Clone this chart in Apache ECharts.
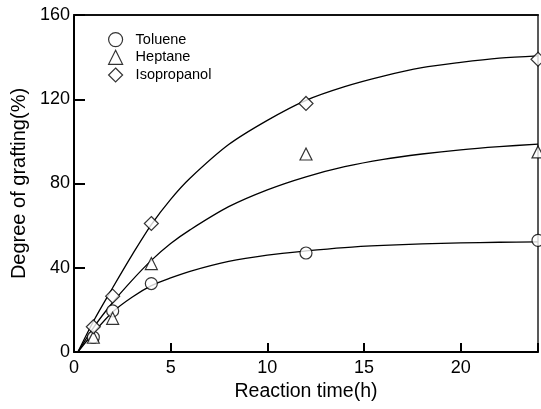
<!DOCTYPE html>
<html>
<head>
<meta charset="utf-8">
<script src="https://cdn.jsdelivr.net/npm/echarts@6/dist/echarts.min.js"></script>
<style>html,body{margin:0;padding:0;background:#fff;}#c{width:541px;height:409px;}</style>
</head>
<body>
<div id="c"></div>
<script>
// Measured points
var timePts = [1, 2, 4, 12, 24];
var toluene = [7, 19.5, 32.5, 47, 53];
var heptane = [7, 16, 42, 94, 95];
var isopropanol = [12, 26.5, 61, 118, 139];

// Fitted curves
var curveT = [0.2, 1, 2, 3, 4, 5, 6, 8, 10, 12, 14, 16, 18, 20, 22, 24];
var tolueneCurve = [0, 9, 19, 26, 31.5, 35.2, 38.3, 43, 46, 48, 49.6, 50.6, 51.3, 51.8, 52.1, 52.3];
var heptaneCurve = [0, 11.5, 23.5, 34, 43.5, 51.5, 58, 69, 77, 83.2, 88, 91.5, 94, 96, 97.5, 98.7];
var isopropanolCurve = [0, 14.5, 30.5, 46, 60.5, 72.5, 82.5, 98.5, 110, 119.5, 126, 131, 135, 137.5, 139.5, 140.6];

var xTicks = [0, 5, 10, 15, 20];
var yTicks = [0, 40, 80, 120, 160];

function pairs(xs, ys) { return xs.map(function (x, i) { return [x, ys[i]]; }); }

var FONT = '"Liberation Sans", Arial, Helvetica, sans-serif';
var chart = echarts.init(document.getElementById('c'), null, { renderer: 'canvas' });
var markerStyle = { color: '#fff', borderColor: '#000', borderWidth: 1.2 };
var lineStyle = { color: '#000', width: 1.3 };

chart.setOption({
  animation: false,
  backgroundColor: '#fff',
  textStyle: { fontFamily: FONT, color: '#000' },
  grid: { left: 74, top: 15, right: 1, bottom: 57 },
  legend: {
    orient: 'vertical', left: 108, top: 32, padding: 0, itemWidth: 14, itemHeight: 14, itemGap: 2.5,
    textStyle: { fontFamily: FONT, fontSize: 14.5, color: '#000', padding: [0, 0, 0, 8] },
    data: [
      { name: 'Toluene', icon: 'circle', itemStyle: markerStyle },
      { name: 'Heptane', icon: 'triangle', itemStyle: markerStyle },
      { name: 'Isopropanol', icon: 'diamond', itemStyle: markerStyle }
    ]
  },
  xAxis: [{
    type: 'value', min: 0, max: 24, interval: 5, position: 'bottom',
    name: 'Reaction time(h)', nameLocation: 'middle', nameGap: 28,
    nameTextStyle: { fontFamily: FONT, fontSize: 19.5, color: '#000' },
    axisLine: { show: true, onZero: false, lineStyle: { color: '#000', width: 2 } },
    axisTick: { show: true, inside: true, length: 9, lineStyle: { color: '#000', width: 2 } },
    axisLabel: { fontFamily: FONT, fontSize: 18, color: '#000', margin: 7,
      formatter: function (v) { return xTicks.indexOf(v) >= 0 ? String(v) : ''; } },
    splitLine: { show: false }
  }, {
    type: 'value', min: 0, max: 24, position: 'top',
    axisLine: { show: true, onZero: false, lineStyle: { color: '#111', width: 2 } },
    axisTick: { show: false }, axisLabel: { show: false }, splitLine: { show: false }
  }],
  yAxis: [{
    type: 'value', min: 0, max: 160, interval: 40, position: 'left',
    name: 'Degree of grafting(%)', nameLocation: 'middle', nameGap: 40, nameRotate: 90,
    nameTextStyle: { fontFamily: FONT, fontSize: 20, color: '#000' },
    axisLine: { show: true, onZero: false, lineStyle: { color: '#000', width: 2 } },
    axisTick: { show: true, inside: true, length: 11, lineStyle: { color: '#000', width: 2 } },
    axisLabel: { fontFamily: FONT, fontSize: 18, color: '#000', margin: 4,
      formatter: function (v) { return yTicks.indexOf(v) >= 0 ? String(v) : ''; } },
    splitLine: { show: false }
  }, {
    type: 'value', min: 0, max: 160, position: 'right',
    axisLine: { show: true, onZero: false, lineStyle: { color: '#222', width: 1.5 } },
    axisTick: { show: false }, axisLabel: { show: false }, splitLine: { show: false }
  }],
  series: [
    { type: 'line', name: 'tc', data: pairs(curveT, tolueneCurve), smooth: 0.3, symbol: 'none', lineStyle: lineStyle, z: 2, silent: true },
    { type: 'line', name: 'hc', data: pairs(curveT, heptaneCurve), smooth: 0.3, symbol: 'none', lineStyle: lineStyle, z: 2, silent: true },
    { type: 'line', name: 'ic', data: pairs(curveT, isopropanolCurve), smooth: 0.3, symbol: 'none', lineStyle: lineStyle, z: 2, silent: true },
    { type: 'scatter', name: 'Toluene', data: pairs(timePts, toluene), symbol: 'circle', symbolSize: 12, itemStyle: markerStyle, z: 3 },
    { type: 'scatter', name: 'Heptane', data: pairs(timePts, heptane), symbol: 'triangle', symbolSize: 12, itemStyle: markerStyle, z: 3 },
    { type: 'scatter', name: 'Isopropanol', data: pairs(timePts, isopropanol), symbol: 'diamond', symbolSize: 14, itemStyle: markerStyle, z: 3 }
  ]
});
</script>
</body>
</html>
